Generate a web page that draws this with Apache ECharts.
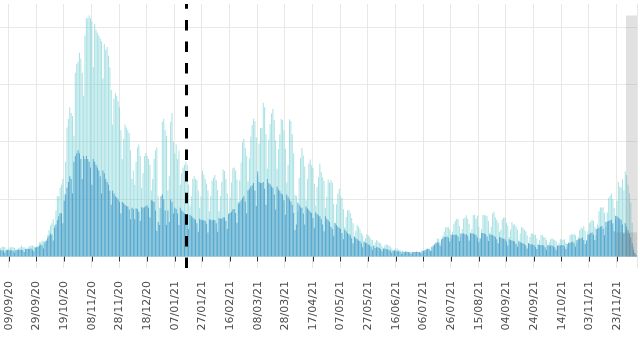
<!DOCTYPE html>
<html>
<head>
<meta charset="utf-8">
<script src="https://cdn.jsdelivr.net/npm/echarts@6/dist/echarts.min.js"></script>
<style>
  html, body { margin: 0; padding: 0; background: #ffffff; }
  #chart { width: 640px; height: 337px; }
</style>
</head>
<body>
<div id="chart"></div>
<script>
// First day shown and number of consecutive days
const START_DATE = [2020, 8, 3];   // 3 Sep 2020 (month is zero-based)
const DAY_COUNT = 461;

// Daily counts (thousands), one row per week starting on Thursday
const reported = [
  1.5,1.7,1.7,1.6,1.0,1.1,1.4,
  1.6,1.6,1.6,1.5,1.0,1.2,1.5,
  1.6,1.9,1.6,1.6,1.4,1.4,1.6,
  1.8,1.9,1.9,1.8,1.5,1.6,1.8,
  2.5,2.5,2.8,2.6,2.3,2.7,3.7,
  4.6,5.4,5.8,6.5,5.5,8.0,10.5,
  10.5,12.0,12.5,13.5,11.0,16.5,22.5,
  24.0,26.0,25.0,24.5,21.0,32.0,33.5,
  34.0,35.5,34.5,32.0,28.0,38.5,41.5,
  41.5,42.0,41.5,41.0,33.0,40.5,39.5,
  39.0,38.5,38.0,37.5,31.0,37.0,36.0,
  36.5,35.0,33.0,29.0,23.0,27.5,28.5,
  28.0,27.0,26.0,22.0,17.0,20.5,23.0,
  22.5,22.0,21.5,18.5,13.5,15.0,12.5,
  16.5,19.0,19.5,17.5,12.0,14.5,17.5,
  18.0,17.5,17.0,16.0,11.5,13.5,17.0,
  18.5,19.0,10.5,8.5,8.5,23.5,24.0,
  22.0,21.0,11.5,14.0,23.5,25.0,20.0,
  18.0,19.5,17.0,18.5,12.5,14.5,15.5,
  16.0,16.5,16.0,12.5,8.8,10.5,13.5,
  14.0,13.5,13.3,11.5,8.5,10.5,15.0,
  14.3,13.5,12.7,11.5,7.9,10.6,13.2,
  13.7,14.2,13.3,11.6,7.9,10.6,13.0,
  15.2,14.9,13.5,11.0,7.3,10.3,12.9,
  15.4,15.5,15.0,13.4,9.6,13.3,16.4,
  19.9,20.5,18.9,17.5,13.1,17.1,20.9,
  22.9,24.0,23.6,20.8,13.9,19.7,22.4,
  22.4,26.8,26.0,21.3,15.3,20.4,23.1,
  24.9,25.7,23.8,20.2,15.3,18.7,21.3,
  24.0,23.8,22.0,18.8,12.9,16.0,23.9,
  23.6,21.3,18.0,10.7,10.6,7.8,13.7,
  17.2,18.9,17.6,15.7,9.8,13.5,16.2,
  16.9,15.9,15.4,12.7,8.9,12.1,13.8,
  16.2,14.7,13.8,13.2,8.4,10.4,13.4,
  12.9,13.3,12.9,9.2,5.9,9.1,11.0,
  11.8,10.5,10.2,8.3,5.1,6.9,8.0,
  8.1,7.6,6.7,5.8,3.5,4.5,5.5,
  5.2,4.7,4.1,3.7,2.5,3.2,3.9,
  3.7,3.4,3.0,2.9,1.8,2.5,2.9,
  2.6,2.4,2.3,1.8,1.3,1.9,2.2,
  2.0,1.9,1.7,1.4,0.9,1.2,1.4,
  1.4,1.2,1.2,0.9,0.5,0.8,1.0,
  0.9,0.8,0.8,0.8,0.4,0.7,0.8,
  0.9,0.8,0.8,0.8,0.5,0.9,1.0,
  1.4,1.4,1.4,1.0,0.9,1.6,2.2,
  2.5,3.1,3.1,2.5,1.6,3.6,4.3,
  5.1,5.1,5.1,4.7,3.1,4.3,5.7,
  6.2,6.6,6.5,5.3,3.4,4.8,6.6,
  6.8,7.2,6.6,5.7,4.2,4.8,7.2,
  7.3,6.6,7.1,5.2,3.0,4.8,7.3,
  7.2,7.2,7.0,6.2,4.2,5.2,7.5,
  7.8,6.8,6.4,5.9,4.3,4.7,6.5,
  6.8,6.8,5.9,5.4,3.4,4.7,6.0,
  5.6,5.6,5.2,4.7,2.8,4.0,5.1,
  5.0,4.6,4.4,3.7,2.4,3.4,4.0,
  4.0,3.8,3.8,3.2,2.0,2.9,3.7,
  3.8,3.4,3.3,2.9,1.9,2.5,3.0,
  3.2,3.0,2.9,2.7,1.9,2.3,3.0,
  3.0,2.9,3.0,2.4,1.6,2.5,3.7,
  3.9,3.9,3.9,3.7,2.5,3.4,4.6,
  5.0,4.9,5.3,4.5,2.8,4.4,5.8,
  6.1,6.4,6.2,5.2,3.7,5.6,7.9,
  8.6,8.5,8.6,7.6,5.1,7.7,10.2,
  10.6,11.0,10.0,8.5,6.4,9.7,13.0,
  12.2,12.0,13.4,11.5,14.8,14.2,12.5,
  11.0,9.4,5.9,1.7,0.6,0.2
];

const byOnset = [
  1.1,1.1,1.0,0.7,1.2,1.2,1.1,
  1.1,1.1,1.0,0.7,1.2,1.2,1.2,
  1.2,1.2,1.1,0.8,1.3,1.3,1.3,
  1.3,1.4,1.2,0.9,1.6,1.6,1.7,
  1.9,2.1,1.9,1.4,2.6,2.8,3.2,
  3.6,4.0,3.8,2.8,5.0,5.6,6.3,
  7.0,7.6,7.5,5.8,9.7,10.8,12.0,
  13.0,14.0,13.5,11.0,16.5,17.5,18.0,
  18.5,18.0,17.0,13.5,17.5,17.0,17.5,
  17.0,16.5,15.5,12.5,17.0,16.5,16.0,
  15.5,15.0,14.0,11.0,15.0,14.5,13.5,
  13.0,12.5,11.5,9.0,11.5,11.0,10.5,
  10.3,10.0,9.5,7.5,9.5,9.3,9.0,
  8.8,8.7,8.2,6.5,8.5,8.3,6.5,
  8.4,8.3,7.8,6.2,8.6,8.5,8.6,
  8.8,8.9,8.5,6.8,9.8,9.7,9.5,
  8.0,4.5,6.0,5.5,10.5,10.8,10.0,
  8.0,5.5,8.0,6.0,10.0,9.5,7.5,
  8.5,8.3,7.5,5.5,8.5,8.0,7.8,
  7.5,7.3,6.6,4.8,7.3,7.0,6.8,
  6.6,6.4,5.8,4.3,6.6,6.4,6.3,
  6.3,6.2,5.7,4.2,6.5,6.4,6.3,
  6.4,6.3,5.8,4.3,6.7,6.6,6.6,
  6.8,6.8,6.2,4.8,7.5,7.6,7.8,
  8.2,8.3,7.6,5.9,9.2,9.4,9.8,
  10.2,10.5,9.6,7.5,11.5,11.8,12.2,
  12.4,12.8,11.5,8.8,14.8,13.0,12.8,
  12.8,13.0,11.8,9.0,13.5,12.8,12.6,
  12.2,12.0,10.8,8.2,12.2,11.7,11.4,
  11.0,10.8,9.8,7.3,10.8,10.4,10.0,
  9.6,9.0,7.6,4.6,5.6,9.4,9.0,
  8.6,8.5,7.5,5.6,8.7,8.4,8.1,
  7.8,7.6,6.7,5.0,7.7,7.4,7.2,
  7.0,6.5,5.6,4.4,7.0,6.6,6.3,
  6.0,5.2,4.8,3.6,5.8,5.5,5.2,
  5.0,4.8,4.1,3.0,4.7,4.4,4.1,
  3.9,3.7,3.2,2.3,3.5,3.2,3.0,
  2.8,2.7,2.3,1.6,2.6,2.4,2.3,
  2.1,2.0,1.7,1.2,1.9,1.5,1.6,
  1.6,1.5,1.3,0.9,1.4,1.4,1.3,
  1.2,1.2,1.0,0.7,1.1,1.0,1.0,
  0.9,0.9,0.8,0.5,0.9,0.8,0.8,
  0.8,0.8,0.7,0.5,0.8,0.8,0.8,
  0.8,0.8,0.8,0.6,1.0,1.0,1.1,
  1.2,1.3,1.3,1.0,1.7,1.9,2.1,
  2.3,2.5,2.4,1.9,3.0,3.2,3.4,
  3.4,3.5,3.3,2.6,3.8,3.8,3.8,
  3.8,3.8,3.5,2.7,4.0,4.0,4.0,
  3.9,3.9,3.6,2.8,4.0,4.0,4.0,
  3.9,3.7,3.3,2.5,3.2,4.1,4.1,
  4.0,3.9,3.5,2.7,3.9,3.8,3.7,
  3.6,3.4,3.0,2.3,3.4,3.3,3.2,
  3.1,3.0,2.6,1.9,3.0,2.9,2.8,
  2.7,2.6,2.2,1.7,2.6,2.5,2.4,
  2.3,2.2,1.9,1.4,2.3,2.2,2.1,
  2.1,2.0,1.7,1.3,2.1,2.0,2.0,
  2.0,1.9,1.6,1.2,2.0,1.9,1.9,
  1.9,1.8,1.6,1.2,1.9,1.9,1.9,
  2.0,2.0,1.8,1.3,2.2,2.3,2.4,
  2.5,2.6,2.3,1.7,2.9,3.0,3.1,
  3.2,3.3,2.9,2.2,2.8,3.8,3.9,
  4.1,4.2,3.8,2.9,4.8,4.9,5.0,
  5.2,5.3,4.9,3.7,6.0,6.1,6.2,
  6.3,6.4,5.8,4.4,7.1,7.0,6.8,
  6.6,6.4,5.6,4.0,5.8,5.2,4.6,
  4.0,3.3,2.3,1.1,0.6,0.2
];

// Dates that carry a tick label
const TICK_LABELS = [
  '09/09/20','29/09/20','19/10/20','08/11/20','28/11/20','18/12/20',
  '07/01/21','27/01/21','16/02/21','08/03/21','28/03/21','17/04/21',
  '07/05/21','27/05/21','16/06/21','06/07/21','26/07/21','15/08/21',
  '04/09/21','24/09/21','14/10/21','03/11/21','23/11/21'
];

// Vertical reference line and shaded (still incomplete) last days:
// [first day, last day, height of the block]
const MARKER_DATE = '15/01/21';
const SHADE_ALL = ['30/11/21', '07/12/21', 42];
const SHADE_LOW = ['23/11/21', '07/12/21', 4.2];

function pad(n) { return (n < 10 ? '0' : '') + n; }
const dates = [];
for (let i = 0; i < DAY_COUNT; i++) {
  const d = new Date(Date.UTC(START_DATE[0], START_DATE[1], START_DATE[2] + i));
  dates.push(pad(d.getUTCDate()) + '/' + pad(d.getUTCMonth() + 1) + '/' + String(d.getUTCFullYear()).slice(2));
}
const tickSet = new Set(TICK_LABELS);
const isTick = (i) => tickSet.has(dates[i]);

// Shaded blocks as [first day index, last day index, height]
const shadeData = [SHADE_ALL, SHADE_LOW].map(s => [dates.indexOf(s[0]), dates.indexOf(s[1]), s[2]]);

const chart = echarts.init(document.getElementById('chart'), null, { renderer: 'canvas' });
chart.setOption({
  animation: false,
  backgroundColor: '#ffffff',
  grid: { left: 0, right: 3, top: 4, bottom: 69, containLabel: false },
  xAxis: {
    type: 'category',
    data: dates,
    boundaryGap: true,
    axisLine: { show: false },
    axisTick: {
      show: true, interval: isTick, alignWithLabel: true,
      length: 5, lineStyle: { color: '#333333', width: 1 }
    },
    axisLabel: {
      interval: isTick,
      rotate: 90, margin: 13,
      fontFamily: 'DejaVu Sans', fontSize: 11, color: '#4d4d4d'
    },
    splitLine: {
      show: true, interval: isTick,
      lineStyle: { color: '#e9e9e4', width: 1 }
    }
  },
  yAxis: {
    type: 'value',
    min: -2, max: 44, splitNumber: 5,
    axisLine: { show: false }, axisTick: { show: false }, axisLabel: { show: false },
    splitLine: { show: true, showMinLine: false, showMaxLine: false, lineStyle: { color: '#e9e9e4', width: 1 } }
  },
  series: [
    {
      name: 'reported', type: 'bar', data: reported,
      barWidth: '72%', barGap: '-100%',
      itemStyle: { color: 'rgba(110,205,210,0.6)' },
      emphasis: { disabled: true },
      markLine: {
        silent: true, symbol: ['none', 'none'],
        label: { show: false },
        lineStyle: { color: '#000000', width: 3, type: [10.5, 11.1] },
        data: [{ xAxis: MARKER_DATE }]
      }
    },
    {
      name: 'byOnset', type: 'bar', data: byOnset,
      barWidth: '72%', barGap: '-100%',
      itemStyle: { color: 'rgba(60,150,200,0.78)' },
      emphasis: { disabled: true }
    },
    {
      name: 'shade', type: 'custom', z: 5, silent: true,
      data: shadeData,
      encode: { x: [0, 1], y: 2 },
      renderItem: function (params, api) {
        const band = api.size([1, 0])[0];
        const p0 = api.coord([api.value(0), 0]);
        const p1 = api.coord([api.value(1), api.value(2)]);
        return {
          type: 'rect',
          shape: {
            x: p0[0] - band / 2,
            y: p1[1],
            width: p1[0] - p0[0] + band,
            height: p0[1] - p1[1]
          },
          style: { fill: 'rgba(120,120,120,0.22)' }
        };
      }
    }
  ]
});
</script>
</body>
</html>
